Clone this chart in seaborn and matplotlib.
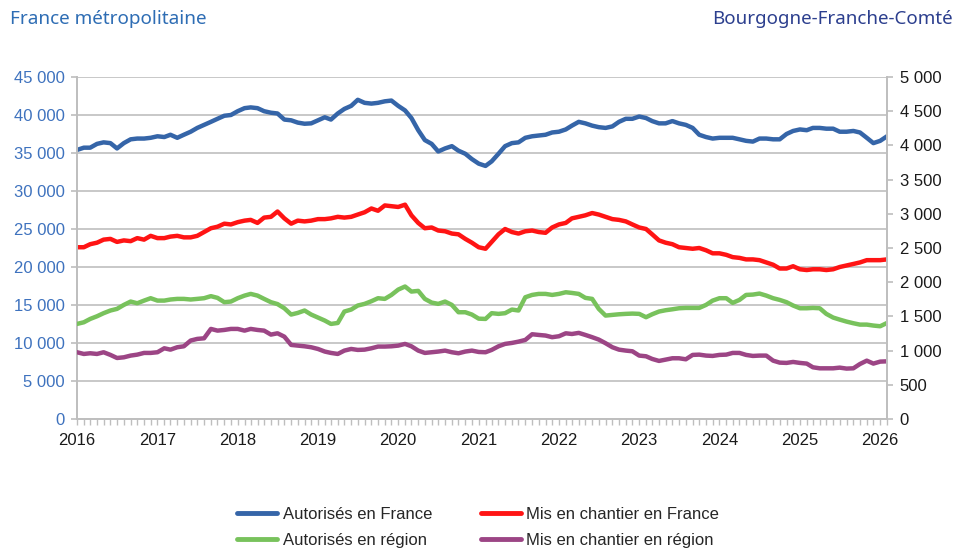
import numpy as np
import pandas as pd
import matplotlib
matplotlib.use("Agg")
import matplotlib.pyplot as plt
import matplotlib.dates as mdates
from matplotlib.ticker import FuncFormatter, MultipleLocator
import seaborn as sns

# ---------------- data (monthly, Jan 2016 -> Feb 2026) ----------------
months = pd.date_range("2016-01-01", periods=122, freq="MS")

aut_fr = [35400, 35700, 35700, 36200, 36400, 36300, 35600, 36300, 36800, 36900, 36900, 37000,
          37200, 37100, 37400, 37000, 37400, 37800, 38300, 38700, 39100, 39500, 39900, 40000,
          40500, 40900, 41000, 40900, 40500, 40300, 40200, 39400, 39300, 39000, 38850, 38900,
          39300, 39700, 39400, 40200, 40800, 41200, 42000, 41600, 41500, 41600, 41800, 41900,
          41200, 40600, 39600, 38000, 36700, 36200, 35200, 35600, 35900, 35300, 34900, 34200,
          33600, 33300, 33900, 34900, 35900, 36300, 36400, 37000, 37200, 37300, 37400, 37700,
          37800, 38100, 38600, 39100, 38900, 38600, 38400, 38300, 38500, 39100, 39500, 39500,
          39800, 39600, 39200, 38900, 38900, 39200, 38900, 38700, 38300, 37400, 37100, 36900,
          37000, 37000, 37000, 36800, 36600, 36500, 36900, 36900, 36800, 36800, 37500, 37900,
          38100, 38000, 38300, 38300, 38200, 38200, 37800, 37800, 37900, 37700, 37000, 36300,
          36600, 37200]

mec_fr = [22600, 22600, 23000, 23200, 23600, 23700, 23300, 23500, 23400, 23800, 23600, 24100,
          23800, 23800, 24000, 24100, 23900, 23900, 24100, 24600, 25100, 25300, 25700, 25600,
          25900, 26100, 26200, 25800, 26500, 26600, 27300, 26400, 25700, 26100, 26000, 26100,
          26300, 26300, 26400, 26600, 26500, 26600, 26900, 27200, 27700, 27400, 28100, 28000,
          27900, 28200, 26800, 25800, 25100, 25200, 24800, 24700, 24400, 24300, 23700, 23200,
          22600, 22400, 23300, 24300, 25000, 24600, 24400, 24700, 24800, 24600, 24500, 25200,
          25600, 25800, 26400, 26600, 26800, 27100, 26900, 26600, 26300, 26200, 26000, 25600,
          25200, 25000, 24300, 23500, 23200, 23000, 22600, 22500, 22400, 22500, 22200, 21800,
          21800, 21600, 21300, 21200, 21000, 21000, 20900, 20600, 20300, 19800, 19800, 20100,
          19700, 19600, 19700, 19700, 19600, 19700, 20000, 20200, 20400, 20600, 20900, 20900,
          20900, 21000]

aut_reg = [1390, 1414, 1463, 1502, 1547, 1586, 1610, 1668, 1717, 1692, 1731, 1766,
           1731, 1731, 1747, 1756, 1756, 1747, 1756, 1766, 1796, 1771, 1708, 1717,
           1766, 1804, 1829, 1804, 1756, 1708, 1680, 1619, 1527, 1551, 1586, 1527,
           1483, 1439, 1390, 1404, 1571, 1600, 1659, 1683, 1722, 1766, 1756, 1814,
           1892, 1937, 1863, 1873, 1756, 1702, 1683, 1717, 1668, 1561, 1561, 1527,
           1467, 1463, 1547, 1537, 1547, 1600, 1586, 1780, 1814, 1829, 1829, 1814,
           1829, 1853, 1843, 1829, 1771, 1756, 1610, 1512, 1522, 1531, 1537, 1541,
           1537, 1488, 1531, 1571, 1590, 1604, 1619, 1624, 1624, 1624, 1668, 1731,
           1766, 1766, 1698, 1741, 1814, 1819, 1834, 1804, 1766, 1741, 1708, 1659,
           1619, 1619, 1624, 1619, 1537, 1483, 1453, 1424, 1400, 1380, 1380, 1366,
           1356, 1404]

mec_reg = [976, 951, 961, 951, 976, 937, 892, 902, 927, 941, 966, 966,
           976, 1034, 1014, 1049, 1063, 1147, 1171, 1180, 1317, 1292, 1302, 1317,
           1317, 1292, 1317, 1302, 1292, 1234, 1253, 1204, 1083, 1073, 1063, 1049,
           1024, 986, 966, 951, 1000, 1024, 1010, 1014, 1034, 1059, 1059, 1063,
           1073, 1098, 1063, 1000, 966, 976, 986, 1000, 976, 961, 986, 1000,
           980, 976, 1010, 1063, 1098, 1112, 1131, 1156, 1239, 1229, 1220, 1196,
           1210, 1253, 1243, 1259, 1229, 1196, 1161, 1108, 1049, 1014, 1000, 990,
           927, 917, 878, 849, 868, 888, 888, 873, 937, 941, 927, 922,
           937, 941, 966, 966, 937, 922, 927, 927, 853, 824, 820, 834,
           820, 810, 756, 741, 741, 741, 751, 737, 741, 804, 853, 810,
           839, 843]

labels = ["Autorisés en France", "Mis en chantier en France",
          "Autorisés en région", "Mis en chantier en région"]
left_ticks = list(range(0, 45001, 5000))
right_ticks = list(range(0, 5001, 500))

df = pd.DataFrame({"mois": months, "aut_fr": aut_fr, "mec_fr": mec_fr,
                   "aut_reg": aut_reg, "mec_reg": mec_reg})

# ---------------- style ----------------
sns.set_theme(style="white")
plt.rcParams['font.family'] = ['Liberation Sans', 'DejaVu Sans']

BLUE = "#3565A8"
RED = "#FF1414"
GREEN = "#78C25C"
PURPLE = "#9C4585"
GRID = "#C8C8C8"
AXC = "#BEBEBE"

fig = plt.figure(figsize=(9.55, 5.49), dpi=100)
ax = fig.add_axes([77 / 955, 1 - 419 / 549, (887 - 77) / 955, (419 - 77) / 549])
ax2 = ax.twinx()

lw = 3.2
sns.lineplot(data=df, x="mois", y="aut_fr", ax=ax, color=BLUE, lw=lw, label=labels[0])
sns.lineplot(data=df, x="mois", y="mec_fr", ax=ax, color=RED, lw=lw, label=labels[1])
sns.lineplot(data=df, x="mois", y="aut_reg", ax=ax2, color=GREEN, lw=lw, label=labels[2])
sns.lineplot(data=df, x="mois", y="mec_reg", ax=ax2, color=PURPLE, lw=lw, label=labels[3])

for a in (ax, ax2):
    if a.get_legend() is not None:
        a.get_legend().remove()
    a.set_xlabel("")
    a.set_ylabel("")

fmt = FuncFormatter(lambda v, p: f"{int(v):,}".replace(",", " "))

ax.set_ylim(0, 45000)
ax.set_yticks(left_ticks)
ax.yaxis.set_major_formatter(fmt)
ax2.set_ylim(0, 5000)
ax2.set_yticks(right_ticks)
ax2.yaxis.set_major_formatter(fmt)

ax.set_xlim(months[0], months[-1])
ax.xaxis.set_major_locator(mdates.YearLocator())
ax.xaxis.set_major_formatter(mdates.DateFormatter("%Y"))
ax.xaxis.set_minor_locator(mdates.MonthLocator())

ax.yaxis.grid(True, color=GRID, lw=1.4)
ax.xaxis.grid(False)
ax2.grid(False)
ax.set_axisbelow(True)

for s in ("top", "right"):
    ax.spines[s].set_visible(False)
for s in ("left", "bottom"):
    ax.spines[s].set_color(AXC)
    ax.spines[s].set_linewidth(1.4)
for s in ("top", "left", "bottom"):
    ax2.spines[s].set_visible(False)
ax2.spines["right"].set_color(AXC)
ax2.spines["right"].set_linewidth(1.4)

ax.tick_params(axis="y", left=True, direction="out", length=4, width=1.2, color=AXC,
               labelcolor="#3E72BE", labelsize=12, pad=5)
ax.tick_params(axis="x", which="both", bottom=True, direction="out", length=4, width=1.0,
               color=AXC, labelcolor="#1A1A1A", labelsize=12, pad=6)
ax2.tick_params(axis="y", right=True, direction="out", length=4, width=1.2, color=AXC,
                labelcolor="#1A1A1A", labelsize=12, pad=5)

# titles
fig.text(10 / 955, 1 - 19 / 549, "France métropolitaine", color="#2E6DB4",
         fontsize=13.6, family=["Noto Sans", "DejaVu Sans"], ha="left", va="center")
fig.text(953 / 955, 1 - 19 / 549, "Bourgogne-Franche-Comté", color="#2C3F8E",
         fontsize=13.5, family=["Noto Sans", "DejaVu Sans"], ha="right", va="center")

# legend (column-wise: Autorisés | Mis en chantier)
h1, l1 = ax.get_legend_handles_labels()
h2, l2 = ax2.get_legend_handles_labels()
hd = dict(zip(l1 + l2, h1 + h2))
order = [labels[0], labels[2], labels[1], labels[3]]
leg = fig.legend([hd[k] for k in order], order, loc="center left",
                 bbox_to_anchor=(237 / 955, 1 - 527.5 / 549), ncol=2, frameon=False,
                 fontsize=12, handlelength=2.4, handletextpad=0.35, columnspacing=2.9,
                 labelspacing=0.68, borderpad=0, borderaxespad=0)
for line in leg.get_lines():
    line.set_linewidth(3.5)

fig.savefig("out.png", dpi=100)
